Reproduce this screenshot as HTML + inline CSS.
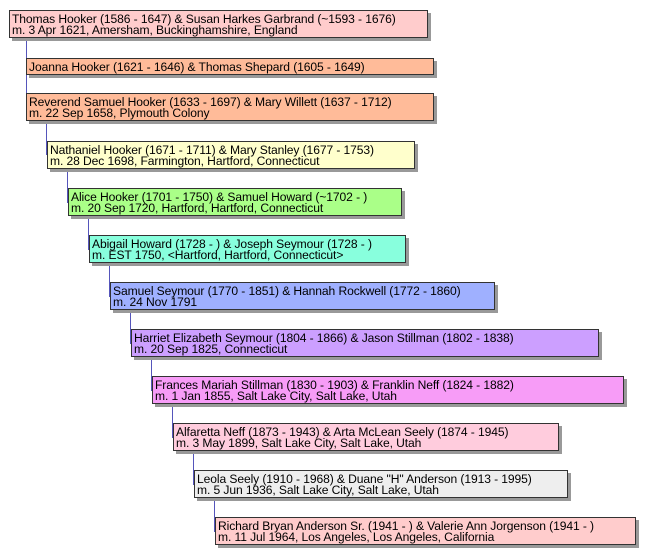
<!DOCTYPE html>
<html><head><meta charset="utf-8"><style>
body{margin:0;width:648px;height:559px;background:#fff;position:relative;overflow:hidden;font-family:"Liberation Sans",sans-serif}
.b{position:absolute;box-sizing:border-box;border:1px solid #333;box-shadow:3px 3px 0 #999;font-size:12.1px;line-height:10.5px;padding:3px 0 0 2px;white-space:nowrap;color:#000;letter-spacing:-0.1px}
.l{position:absolute;width:1px;background:#5555bb}
</style></head><body>
<div class="l" style="left:26px;top:38px;height:72px"></div>
<div class="l" style="left:46px;top:120px;height:35px"></div>
<div class="l" style="left:67px;top:168px;height:35px"></div>
<div class="l" style="left:88px;top:215px;height:35px"></div>
<div class="l" style="left:109px;top:262px;height:35px"></div>
<div class="l" style="left:130px;top:309px;height:35px"></div>
<div class="l" style="left:151px;top:356px;height:35px"></div>
<div class="l" style="left:172px;top:403px;height:35px"></div>
<div class="l" style="left:193px;top:450px;height:35px"></div>
<div class="l" style="left:214px;top:497px;height:35px"></div>

<div class="b" style="left:9px;top:10px;width:419px;height:28px;background:#ffcccc">Thomas Hooker (1586 - 1647) &amp; Susan Harkes Garbrand (~1593 - 1676)<br>m. 3 Apr 1621, Amersham, Buckinghamshire, England</div>
<div class="b" style="left:26px;top:58px;width:408px;height:17px;background:#ffbb99">Joanna Hooker (1621 - 1646) &amp; Thomas Shepard (1605 - 1649)</div>
<div class="b" style="left:26px;top:93px;width:408px;height:28px;background:#ffbb99">Reverend Samuel Hooker (1633 - 1697) &amp; Mary Willett (1637 - 1712)<br>m. 22 Sep 1658, Plymouth Colony</div>
<div class="b" style="left:47px;top:141px;width:368px;height:28px;background:#ffffcc">Nathaniel Hooker (1671 - 1711) &amp; Mary Stanley (1677 - 1753)<br>m. 28 Dec 1698, Farmington, Hartford, Connecticut</div>
<div class="b" style="left:68px;top:188px;width:334px;height:28px;background:#aaff88">Alice Hooker (1701 - 1750) &amp; Samuel Howard (~1702 - )<br>m. 20 Sep 1720, Hartford, Hartford, Connecticut</div>
<div class="b" style="left:89px;top:235px;width:317px;height:28px;background:#88ffdd">Abigail Howard (1728 - ) &amp; Joseph Seymour (1728 - )<br>m. EST 1750, &lt;Hartford, Hartford, Connecticut&gt;</div>
<div class="b" style="left:110px;top:282px;width:385px;height:28px;background:#9fb0ff">Samuel Seymour (1770 - 1851) &amp; Hannah Rockwell (1772 - 1860)<br>m. 24 Nov 1791</div>
<div class="b" style="left:131px;top:329px;width:468px;height:28px;background:#cc9fff">Harriet Elizabeth Seymour (1804 - 1866) &amp; Jason Stillman (1802 - 1838)<br>m. 20 Sep 1825, Connecticut</div>
<div class="b" style="left:152px;top:376px;width:472px;height:28px;background:#f79cf7">Frances Mariah Stillman (1830 - 1903) &amp; Franklin Neff (1824 - 1882)<br>m. 1 Jan 1855, Salt Lake City, Salt Lake, Utah</div>
<div class="b" style="left:173px;top:423px;width:386px;height:28px;background:#ffccdd">Alfaretta Neff (1873 - 1943) &amp; Arta McLean Seely (1874 - 1945)<br>m. 3 May 1899, Salt Lake City, Salt Lake, Utah</div>
<div class="b" style="left:194px;top:470px;width:374px;height:28px;background:#eeeeee">Leola Seely (1910 - 1968) &amp; Duane "H" Anderson (1913 - 1995)<br>m. 5 Jun 1936, Salt Lake City, Salt Lake, Utah</div>
<div class="b" style="left:215px;top:517px;width:421px;height:28px;background:#ffcccc">Richard Bryan Anderson Sr. (1941 - ) &amp; Valerie Ann Jorgenson (1941 - )<br>m. 11 Jul 1964, Los Angeles, Los Angeles, California</div>
</body></html>
